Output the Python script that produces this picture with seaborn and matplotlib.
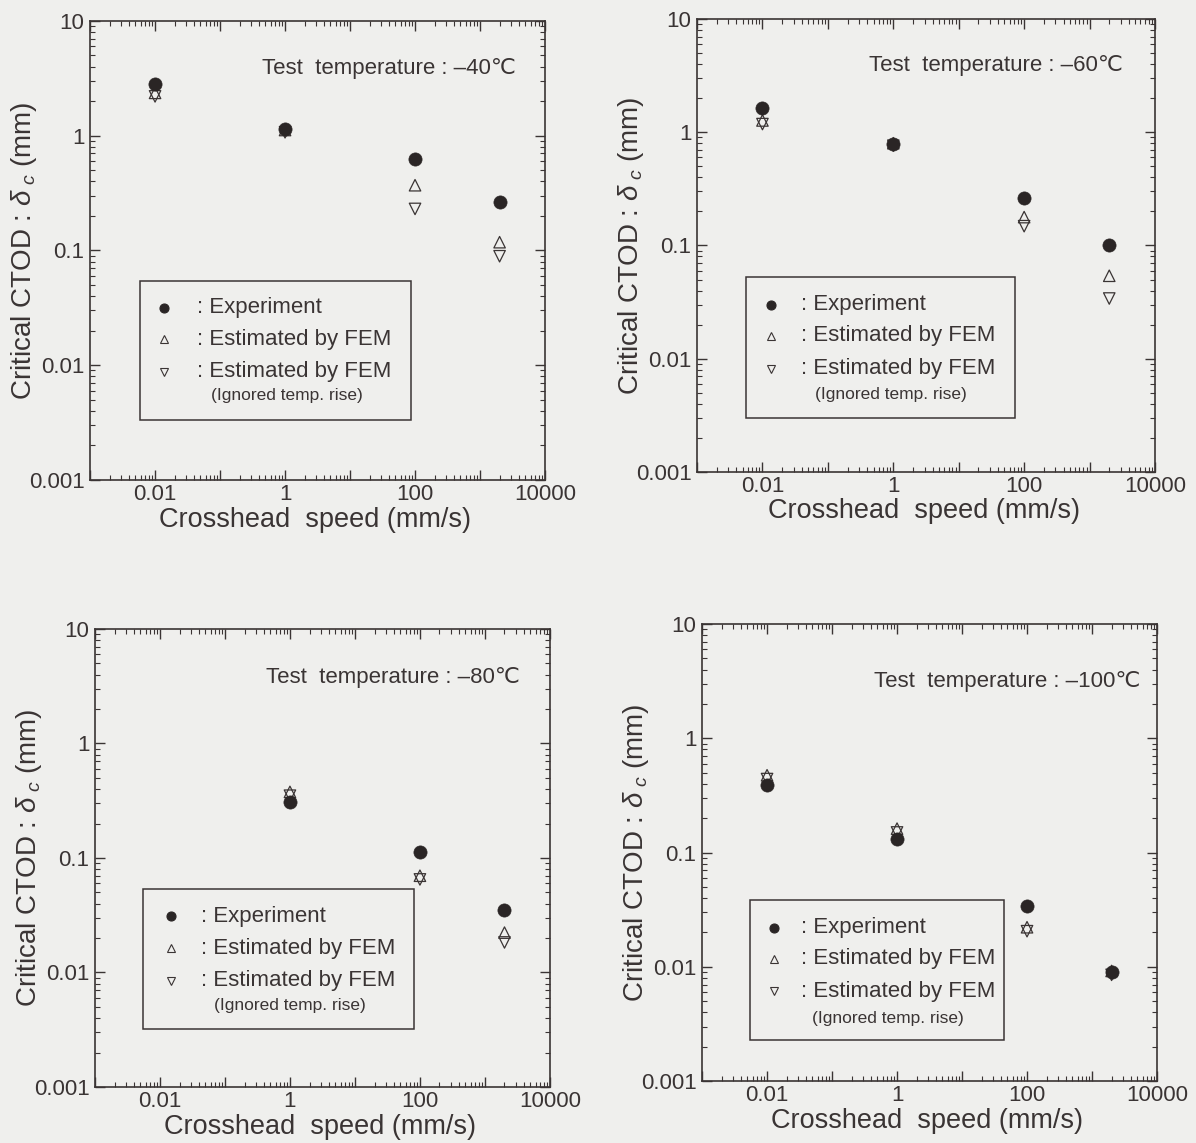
"""Critical CTOD vs crosshead speed at four test temperatures: experiment vs FEM."""
import matplotlib
matplotlib.use('Agg')
import matplotlib.pyplot as plt
from matplotlib.patches import Rectangle
from matplotlib.ticker import LogLocator, NullFormatter
import seaborn as sns

# crosshead speed (mm/s)
speed = [0.01, 1, 100, 2000]
speed_80 = [1, 100, 2000]

# critical CTOD (mm)
exp_40 = [2.84, 1.15, 0.63, 0.265]
fem_40 = [2.36, 1.12, 0.37, 0.118]
ign_40 = [2.20, 1.07, 0.23, 0.089]

exp_60 = [1.62, 0.78, 0.265, 0.100]
fem_60 = [1.27, 0.80, 0.178, 0.054]
ign_60 = [1.18, 0.76, 0.148, 0.034]

exp_80 = [0.306, 0.112, 0.0352]
fem_80 = [0.378, 0.070, 0.0223]
ign_80 = [0.350, 0.065, 0.0183]

exp_100 = [0.39, 0.131, 0.034, 0.0090]
fem_100 = [0.475, 0.162, 0.0222, 0.0092]
ign_100 = [0.44, 0.150, 0.0205, 0.0085]

temps = ['–40℃', '–60℃', '–80℃', '–100℃']

x_ticks = [0.001, 0.01, 0.1, 1, 10, 100, 1000, 10000]
x_ticklabels = ['', '0.01', '', '1', '', '100', '', '10000']
y_ticks = [0.001, 0.01, 0.1, 1, 10]
y_ticklabels = ['0.001', '0.01', '0.1', '1', '10']

key_labels = [': Experiment', ': Estimated by FEM', ': Estimated by FEM']

sns.set_style('ticks')
plt.rcParams['font.family'] = ['Liberation Sans', 'DejaVu Sans']
plt.rcParams['mathtext.fontset'] = 'custom'
plt.rcParams['mathtext.rm'] = 'Liberation Sans'
plt.rcParams['mathtext.it'] = 'Liberation Sans:italic'

INK = '#3a3434'
DOT = '#2a2525'
BG = '#efefed'

data = [
    (speed, exp_40, fem_40, ign_40),
    (speed, exp_60, fem_60, ign_60),
    (speed_80, exp_80, fem_80, ign_80),
    (speed, exp_100, fem_100, ign_100),
]

# axes rectangles (figure fraction) and in-axes placement of the text / key box
rects = [[0.0753, 0.5801, 0.3804, 0.4016],
         [0.5828, 0.5871, 0.3829, 0.3963],
         [0.0794, 0.0490, 0.3804, 0.4007],
         [0.5870, 0.0542, 0.3804, 0.3998]]
title_xy = [(0.936, 0.896), (0.929, 0.898), (0.933, 0.895), (0.963, 0.875)]
keys = [
    dict(box=(0.109, 0.130, 0.705, 0.434), mx=0.162, tx=0.235, rows=(0.375, 0.307, 0.236, 0.185), ix=0.432),
    dict(box=(0.106, 0.120, 0.695, 0.430), mx=0.161, tx=0.227, rows=(0.369, 0.301, 0.228, 0.171), ix=0.423),
    dict(box=(0.105, 0.126, 0.702, 0.432), mx=0.167, tx=0.232, rows=(0.373, 0.303, 0.232, 0.177), ix=0.428),
    dict(box=(0.106, 0.090, 0.664, 0.397), mx=0.158, tx=0.218, rows=(0.336, 0.268, 0.196, 0.136), ix=0.409),
]


def draw_key(ax, box, mx, tx, rows, ix):
    x0, y0, x1, y1 = box
    ax.add_patch(Rectangle((x0, y0), x1 - x0, y1 - y0, transform=ax.transAxes,
                           fill=False, ec=INK, lw=1.1, zorder=5))
    styles = [('o', DOT, 6.5), ('^', 'none', 5.5), ('v', 'none', 5.5)]
    for (m, fc, ms), y, lab in zip(styles, rows[:3], key_labels):
        ax.plot([mx], [y], marker=m, ms=ms, mfc=fc, mec=INK if fc == 'none' else DOT,
                mew=0.8, ls='none', transform=ax.transAxes)
        ax.text(tx, y, lab, transform=ax.transAxes, ha='left', va='center',
                fontsize=16, color=INK)
    ax.text(ix, rows[3], '(Ignored temp. rise)', transform=ax.transAxes,
            ha='center', va='center', fontsize=12.5, color=INK)


fig = plt.figure(figsize=(11.96, 11.43), dpi=100, facecolor=BG)

for i, (x, exp, fem, ign) in enumerate(data):
    ax = fig.add_axes(rects[i])
    ax.set_facecolor(BG)

    # open triangles first so the filled circles sit on top
    sns.scatterplot(x=x, y=fem, marker='^', s=68, facecolor='none', edgecolor=INK,
                    linewidth=0.9, ax=ax, zorder=3)
    sns.scatterplot(x=x, y=ign, marker='v', s=68, facecolor='none', edgecolor=INK,
                    linewidth=0.9, ax=ax, zorder=3)
    sns.scatterplot(x=x, y=exp, marker='o', s=90, color=DOT, edgecolor=DOT,
                    linewidth=0.5, ax=ax, zorder=4)

    ax.set_xscale('log'); ax.set_yscale('log')
    ax.set_xticks(x_ticks, x_ticklabels)
    ax.set_yticks(y_ticks, y_ticklabels)
    ax.xaxis.set_minor_locator(LogLocator(base=10, subs=range(2, 10), numticks=50))
    ax.yaxis.set_minor_locator(LogLocator(base=10, subs=range(2, 10), numticks=50))
    ax.xaxis.set_minor_formatter(NullFormatter())
    ax.yaxis.set_minor_formatter(NullFormatter())
    ax.set_xlim(1e-3, 1e4); ax.set_ylim(1e-3, 10)

    ax.tick_params(which='both', direction='in', top=True, right=True, colors=INK)
    ax.tick_params(which='major', length=7, width=1.0)
    ax.tick_params(which='minor', length=3.5, width=0.8)
    ax.tick_params(axis='x', pad=3, labelsize=16)
    ax.tick_params(axis='y', pad=4, labelsize=16)
    for sp in ax.spines.values():
        sp.set_color(INK); sp.set_linewidth(1.2)

    ax.set_xlabel('Crosshead  speed (mm/s)', fontsize=19.5, color=INK)
    ax.xaxis.set_label_coords(0.495, -0.058)
    ax.set_ylabel(r'Critical CTOD : $\delta_{\ c}$ (mm)', fontsize=20, color=INK)
    ax.yaxis.set_label_coords(-0.112, 0.5)

    tx, ty = title_xy[i]
    ax.text(tx, ty, f'Test  temperature : {temps[i]}', transform=ax.transAxes,
            ha='right', va='center', fontsize=16, color=INK)
    draw_key(ax, **keys[i])

plt.savefig('out.png', dpi=100, facecolor=BG)
plt.close()
